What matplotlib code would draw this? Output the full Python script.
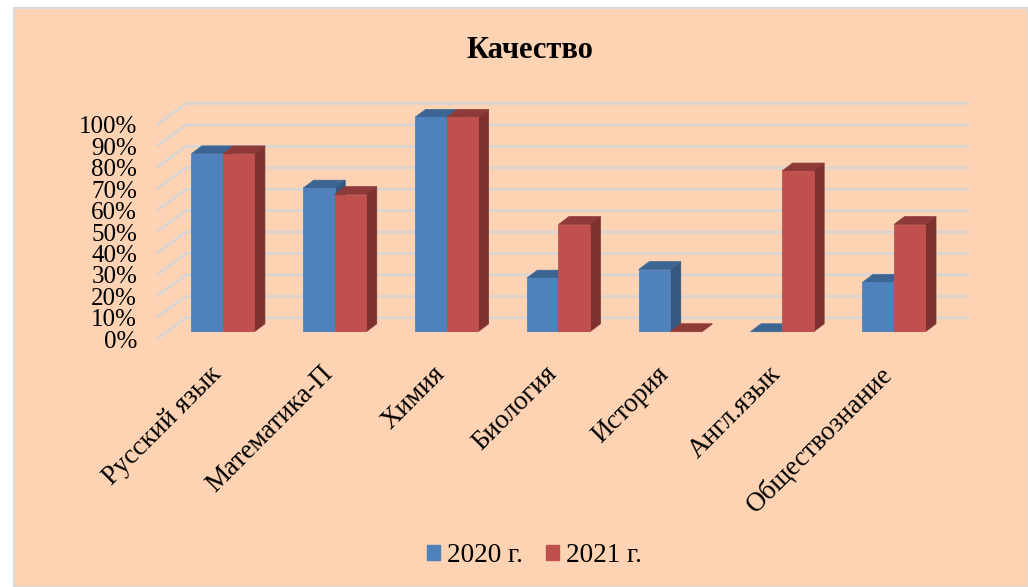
#!/usr/bin/env python
import matplotlib
matplotlib.use('Agg')
import matplotlib.pyplot as plt
from matplotlib.patches import Polygon, Rectangle
from matplotlib.transforms import ScaledTranslation

categories = ['Русский язык', 'Математика-П', 'Химия', 'Биология', 'История', 'Англ.язык', 'Обществознание']
v2020 = [83, 67, 100, 25, 29, 0, 23]
v2021 = [83, 64, 100, 50, 0, 75, 50]
ticks = [0, 10, 20, 30, 40, 50, 60, 70, 80, 90, 100]
ticklabels = ['0%', '10%', '20%', '30%', '40%', '50%', '60%', '70%', '80%', '90%', '100%']
series = ['2020 г.', '2021 г.']

W, H = 1028, 587
BG = '#FDD3B3'
FONT = 'Liberation Serif'
BLUE = ('#4F81BD', '#3D6594', '#35587F')
RED = ('#C0504D', '#8E3A38', '#7F3130')
GRID = '#D9D5D2'

# oblique depth in data units (one category = 112 px, 100% = 214 px)
BAR_W = 0.282
DX = 0.094
DY = 3.7

plt.rcParams['font.family'] = [FONT, 'DejaVu Serif']
fg = plt.figure(figsize=(W/100, H/100), dpi=100, facecolor='white')
fg.add_artist(Rectangle((14/W, 0), 1 - 14/W, 1 - 8/H, transform=fg.transFigure,
                        facecolor=BG, edgecolor='#D9D9D9', linewidth=1.5, zorder=-1))

# axes box: x from px 158 to 968, y = 0% at px 331.7, 100% at px 117.4
ax = fg.add_axes([158/W, 1 - 331.7/H, 810/W, 214.3/H])
ax.patch.set_alpha(0)
ax.set_xlim(-0.58, 6.662)
ax.set_ylim(0, 100)
for s in ax.spines.values():
    s.set_visible(False)

# gridlines run along the side wall and then the back wall
for t in ticks:
    ax.plot([-0.58, -0.33, 6.662], [t - 3.0, t + 6.5, t + 6.5], color=GRID, lw=2,
            clip_on=False, zorder=1, solid_joinstyle='miter')


def bar3d(x, v, cols, z):
    ax.bar(x, v, BAR_W, align='edge', color=cols[0], edgecolor=cols[0], linewidth=0.6, zorder=z + 0.2)
    ax.add_patch(Polygon([(x, v), (x + BAR_W, v), (x + BAR_W + DX, v + DY), (x + DX, v + DY)],
                         facecolor=cols[1], edgecolor=cols[1], lw=0.5, clip_on=False, zorder=z + 0.1))
    ax.add_patch(Polygon([(x + BAR_W, 0), (x + BAR_W + DX, DY), (x + BAR_W + DX, v + DY), (x + BAR_W, v)],
                         facecolor=cols[2], edgecolor=cols[2], lw=0.5, clip_on=False, zorder=z))


for i in range(len(categories)):
    bar3d(i - BAR_W, v2020[i], BLUE, 2 + i)
    bar3d(i, v2021[i], RED, 2.5 + i)

ax.set_yticks(ticks)
ax.set_yticklabels(ticklabels, fontsize=18, color='black')
ax.tick_params(axis='y', length=0, pad=15)
off = ScaledTranslation(0, -7.5/100, fg.dpi_scale_trans)
for l in ax.get_yticklabels():
    l.set_transform(l.get_transform() + off)

ax.set_xticks(range(len(categories)))
ax.set_xticklabels(categories, rotation=45, ha='right', va='top', rotation_mode='anchor', fontsize=19.5, color='black')
ax.tick_params(axis='x', length=0, pad=20)
off = ScaledTranslation(-14/100, -2/100, fg.dpi_scale_trans)
for l in ax.get_xticklabels():
    l.set_transform(l.get_transform() + off)

fg.text(530/W, 1 - 50/H, 'Качество', ha='center', va='center', fontsize=22, fontweight='bold', color='black')

hs = [Rectangle((0, 0), 1, 1, color=BLUE[0]), Rectangle((0, 0), 1, 1, color=RED[0])]
fg.legend(hs, series, loc='center', bbox_to_anchor=(534.5/W, 1 - 556/H), ncol=2, frameon=False, fontsize=19.5,
          handlelength=0.48, handleheight=0.48, handletextpad=0.25, columnspacing=0.85)

fg.savefig('out.png', dpi=100, facecolor='white')
